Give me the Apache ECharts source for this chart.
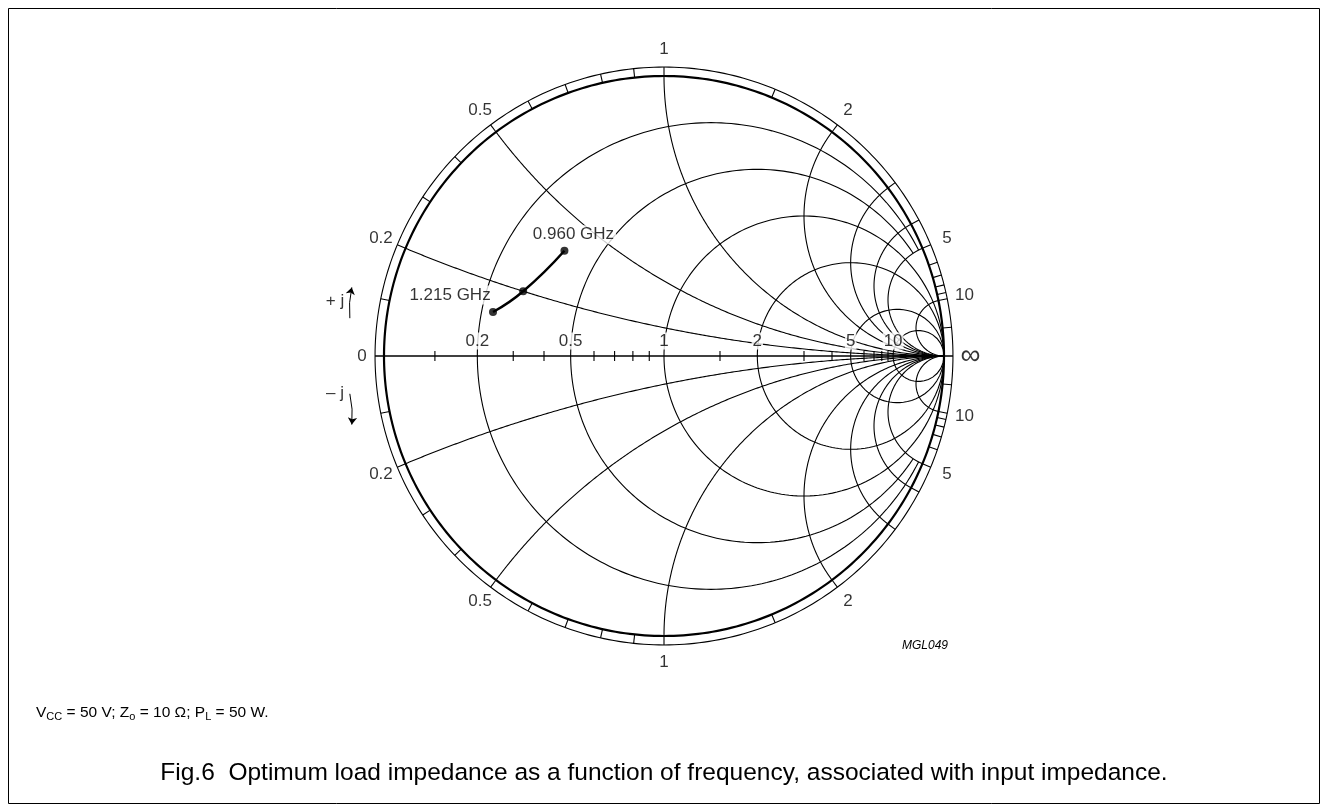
<!DOCTYPE html>
<html>
<head>
<meta charset="utf-8">
<title>Fig.6 Optimum load impedance</title>
<script src="https://cdn.jsdelivr.net/npm/echarts@6/dist/echarts.min.js"></script>
<style>
html, body { margin: 0; padding: 0; background: #fff; }
#chart { width: 1328px; height: 812px; }
</style>
</head>
<body>
<div id="chart"></div>
<script>
// optimum load impedance, normalised to Zo (r + jx), 0.960 GHz -> 1.215 GHz
var freqLabels = ['0.960 GHz', '', '1.215 GHz'];
var loadR = [0.37, 0.30, 0.23];
var loadX = [0.38, 0.20, 0.12];

// smith chart grid values
var rCircles = [0.2, 0.5, 1, 2, 5, 10];
var rCutAt = [5, 5, Infinity, Infinity, Infinity, Infinity]; // reactance where a circle stops
var xArcs = [0.2, 0.5, 1, 2, 3, 4, 5, 10];
var rLabels = ['0.2', '0.5', '1', '2', '5', '10'];
var xLabelVals = [0.2, 0.5, 1, 2, 5, 10];
var xLabels = ['0.2', '0.5', '1', '2', '5', '10'];
var rimTicks = [0.1, 0.2, 0.3, 0.4, 0.5, 0.6, 0.7, 0.8, 0.9, 1, 1.5, 2, 3, 4, 5, 6, 7, 8, 9, 10, 20];
var axisTicks = [0.1, 0.3, 0.4, 0.6, 0.7, 0.8, 0.9, 1.5, 3, 4, 6, 7, 8, 9];

var FONT = '"Liberation Sans", Arial, Helvetica, sans-serif';
var RIM = 1.032;
var LABEL_RAD = 1.095;

// reflection coefficient (z-1)/(z+1)
function gamma(r, x) {
    var a = r - 1, c = r + 1;
    var den = c * c + x * x;
    return [(a * c + x * x) / den, (x * c - a * x) / den];
}

function rCurve(r, xMax) {
    var pts = [], n = 260;
    var uMax = isFinite(xMax) ? Math.atan(xMax) : Math.PI / 2;
    for (var i = 0; i <= n; i++) {
        var u = -uMax + 2 * uMax * i / n;
        pts.push(gamma(r, Math.tan(u)));
    }
    return pts;
}

function xCurve(x) {
    var pts = [], n = 260;
    for (var i = 0; i <= n; i++) {
        var t = i / n;
        var r = t < 1 ? t / (1 - t) : 1e9;
        pts.push(gamma(r, x));
    }
    return pts;
}

function ring(rad) {
    var pts = [], n = 360;
    for (var i = 0; i <= n; i++) {
        var a = 2 * Math.PI * i / n;
        pts.push([rad * Math.cos(a), rad * Math.sin(a)]);
    }
    return pts;
}

var thin = [];
rCircles.forEach(function (r, i) { thin.push({ coords: rCurve(r, rCutAt[i]) }); });
xArcs.forEach(function (x) {
    thin.push({ coords: xCurve(x) });
    thin.push({ coords: xCurve(-x) });
});
thin.push({ coords: ring(RIM) });
rimTicks.forEach(function (v) {
    [1, -1].forEach(function (s) {
        var p = gamma(0, s * v);
        thin.push({ coords: [p, [p[0] * RIM, p[1] * RIM]] });
    });
});
axisTicks.forEach(function (r) {
    var g = (r - 1) / (r + 1);
    thin.push({ coords: [[g, -0.018], [g, 0.018]] });
});

// text on the chart
var txt = [];
function addText(p, text, opt) {
    var lab = { show: true, formatter: text, position: 'inside', color: '#000',
        fontFamily: FONT, fontSize: 17 };
    for (var k in opt) lab[k] = opt[k];
    txt.push({ value: p, label: lab });
}
rCircles.forEach(function (r, i) {
    addText([(r - 1) / (r + 1), 0], rLabels[i],
        { offset: [0, -15], backgroundColor: '#fff', padding: [0, 1] });
});
xLabelVals.forEach(function (x, i) {
    [1, -1].forEach(function (s) {
        var p = gamma(0, s * x);
        addText([p[0] * LABEL_RAD, p[1] * LABEL_RAD], xLabels[i], {});
    });
});
addText([-1.079, 0], '0', {});
addText([1.095, 0], '∞', { fontSize: 28 });
addText([-1.175, 0.196], '+ j', {});
addText([-1.175, -0.132], '– j', {});

var loadPts = loadR.map(function (r, i) { return gamma(r, loadX[i]); });
var labelOffsets = [[9, -16], [0, 0], [-43, -17]];

var chart = echarts.init(document.getElementById('chart'));
chart.setOption({
    animation: false,
    backgroundColor: '#fff',
    grid: { left: 328, top: 20, width: 672, height: 672 },
    xAxis: { type: 'value', min: -1.2, max: 1.2, show: false },
    yAxis: { type: 'value', min: -1.2, max: 1.2, show: false },
    graphic: [
        { type: 'rect', shape: { x: 8.5, y: 8.5, width: 1311, height: 795 },
          style: { fill: 'none', stroke: '#000', lineWidth: 1 } },
        { type: 'text', x: 925, y: 646,
          style: { text: 'MGL049', font: 'italic 12px ' + FONT, fill: '#000',
                   textAlign: 'center', textVerticalAlign: 'middle' } },
        { type: 'text', x: 36, y: 713,
          style: { text: '{n|V}{s|CC}{n| = 50 V; Z}{s|o}{n| = 10 Ω; P}{s|L}{n| = 50 W.}',
                   fill: '#000', textVerticalAlign: 'middle',
                   rich: { n: { fontSize: 15.5, fontFamily: FONT, color: '#000' },
                           s: { fontSize: 11, fontFamily: FONT, color: '#000', padding: [7, 0, 0, 0] } } } },
        { type: 'text', x: 664, y: 773,
          style: { text: 'Fig.6  Optimum load impedance as a function of frequency, associated with input impedance.',
                   font: '24.5px ' + FONT, fill: '#000', textAlign: 'center', textVerticalAlign: 'middle' } }
    ],
    series: [
        { type: 'lines', coordinateSystem: 'cartesian2d', polyline: true, silent: true, z: 2,
          lineStyle: { color: '#000', width: 1.1, opacity: 1 }, data: thin },
        { type: 'lines', coordinateSystem: 'cartesian2d', polyline: true, silent: true, z: 2,
          lineStyle: { color: '#000', width: 2.2, opacity: 1 },
          data: [{ coords: ring(1) }] },
        { type: 'lines', coordinateSystem: 'cartesian2d', polyline: true, silent: true, z: 2,
          lineStyle: { color: '#000', width: 1.3, opacity: 1 },
          data: [{ coords: [[-RIM, 0], [RIM, 0]] }] },
        { type: 'lines', coordinateSystem: 'cartesian2d', silent: true, z: 2,
          symbol: ['none', 'arrow'], symbolSize: 7,
          lineStyle: { color: '#000', width: 1, opacity: 1, curveness: 0.08 },
          data: [{ coords: [[-1.122, 0.135], [-1.115, 0.245]] },
                 { coords: [[-1.122, -0.135], [-1.115, -0.245]] }] },
        { type: 'scatter', silent: true, z: 3, symbolSize: 0, data: txt },
        { type: 'line', silent: true, z: 4, smooth: true, showSymbol: false,
          lineStyle: { color: '#000', width: 2.5 }, data: loadPts },
        { type: 'scatter', silent: true, z: 5, symbolSize: 8,
          itemStyle: { color: '#000' },
          data: loadPts.map(function (p, i) {
              return { value: p, label: {
                  show: freqLabels[i] !== '', formatter: freqLabels[i], position: 'inside',
                  offset: labelOffsets[i], color: '#000', fontFamily: FONT, fontSize: 17,
                  backgroundColor: '#fff', padding: [1, 2] } };
          }) }
    ]
});
</script>
</body>
</html>
